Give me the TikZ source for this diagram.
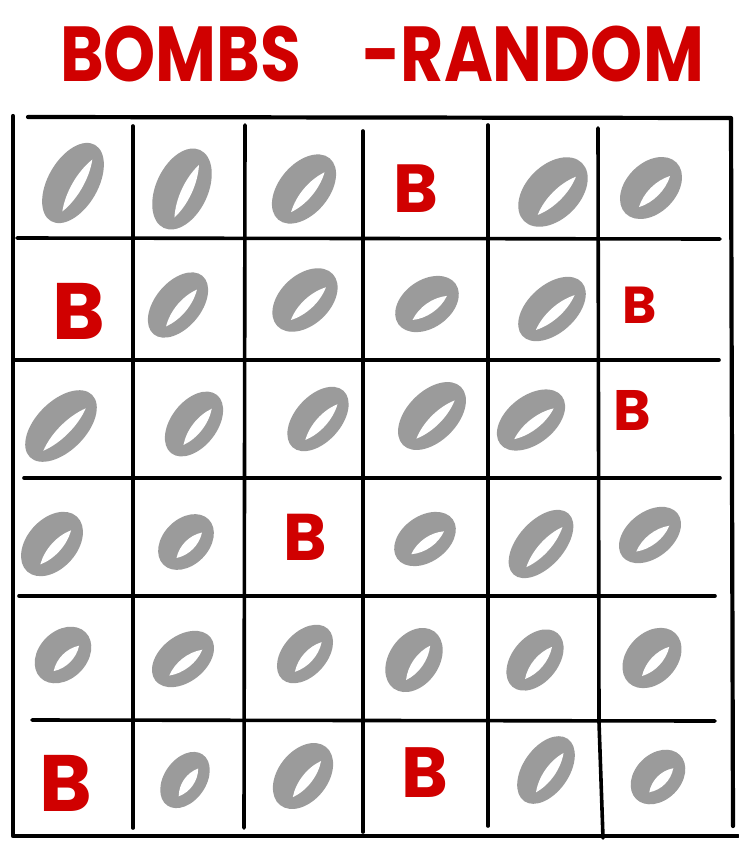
\documentclass[tikz,border=0pt]{standalone}
\usepackage{fontspec}
\usepackage{graphicx}
\newfontfamily\handfont{Poppins}
\definecolor{zgray}{RGB}{155,155,155}
\definecolor{bred}{RGB}{208,0,0}
\newcommand\zerocell[5]{%
  \begin{scope}[shift={(#1,#2)}, rotate=#5]
    \pgfmathsetmacro\AAz{#3-2}
    \pgfmathsetmacro\BBz{#4+3}
    \fill[zgray] (0,0) ellipse [x radius=\AAz, y radius=\BBz];
    \pgfmathsetmacro\LLz{\AAz-14}
    \pgfmathsetmacro\CCz{0.2*\BBz}
    \fill[white] (-\LLz,\CCz) .. controls (-0.4*\LLz,\CCz-7) and (0.4*\LLz,\CCz-7) .. (\LLz,\CCz)
      .. controls (0.4*\LLz,\CCz+7) and (-0.4*\LLz,\CCz+7) .. cycle;
  \end{scope}}
\tikzset{
  gridline/.style={line width=3.6pt, line cap=round, line join=round, black},
  bomb/.style={text=bred, inner sep=0pt, font=\handfont\bfseries},
  title/.style={text=bred, inner sep=0pt, font=\handfont\bfseries\fontsize{78}{78}\selectfont}
}
\begin{document}
\begin{tikzpicture}[x=1pt,y=-1pt]
\useasboundingbox[fill=white] (0,0) rectangle (739,852);
% title
\node[title] (ttl) at (382,54) {\scalebox{0.85}[1]{BOMBS\hspace{72pt}-RANDOM}};
% outer frame
\draw[gridline, line width=4.2pt] (28,117) -- (731,118) -- (733,826);
\draw[gridline, line width=4.2pt] (13,116) -- (13,836) -- (738,836);
% horizontal lines
\draw[gridline] (17,238) -- (720,239);
\draw[gridline] (13,360) -- (719,360);
\draw[gridline] (24,478) -- (720,478);
\draw[gridline] (19,596) -- (715,596);
\draw[gridline] (32,720) -- (715,721);
% vertical lines
\draw[gridline] (133,126) -- (133,828);
\draw[gridline] (245,125) -- (244,828);
\draw[gridline] (363,131) -- (363,832);
\draw[gridline] (488,125) -- (488,826);
\draw[gridline] (598,128) -- (599,722) -- (603,838);
% row 1
\zerocell{73}{183}{46}{22}{60}
\zerocell{182}{189}{45}{23}{65}
\zerocell{304}{189}{42}{22}{50}
\node[bomb] (b14) at (416,189) {\fontsize{68}{68}\selectfont B};
\zerocell{553}{192}{43}{24}{45}
\zerocell{651}{188}{38}{22}{45}
% row 2
\node[bomb] (b21) at (79,311) {\fontsize{80}{80}\selectfont B};
\zerocell{178}{305}{40}{20}{50}
\zerocell{305}{300}{40}{22}{43}
\zerocell{427}{304}{37}{21}{35}
\zerocell{552}{309}{42}{21}{42}
\node[bomb] (b26) at (640,305) {\fontsize{52}{52}\selectfont B};
% row 3
\zerocell{61}{426}{46}{22}{45}
\zerocell{194}{424}{39}{20}{52}
\zerocell{318}{419}{40}{20}{48}
\zerocell{432}{416}{43}{22}{45}
\zerocell{531}{420}{41}{21}{38}
\node[bomb] (b36) at (632,410) {\fontsize{57}{57}\selectfont B};
% row 4
\zerocell{52}{544}{39}{22}{48}
\zerocell{186}{542}{34}{20}{45}
\node[bomb] (b43) at (305,537) {\fontsize{66}{66}\selectfont B};
\zerocell{425}{539}{36}{20}{35}
\zerocell{541}{544}{43}{20}{48}
\zerocell{650}{535}{37}{20}{38}
% row 5
\zerocell{63}{655}{34}{21}{45}
\zerocell{183}{659}{37}{20}{38}
\zerocell{305}{654}{36}{19}{48}
\zerocell{414}{660}{37}{22}{55}
\zerocell{535}{660}{37}{20}{50}
\zerocell{652}{658}{36}{22}{47}
% row 6
\node[bomb] (b61) at (66,783) {\fontsize{80}{80}\selectfont B};
\zerocell{185}{780}{33}{18}{55}
\zerocell{303}{776}{39}{22}{52}
\node[bomb] (b64) at (425,773) {\fontsize{71}{71}\selectfont B};
\zerocell{546}{770}{40}{20}{55}
\zerocell{658}{777}{33}{20}{45}
\end{tikzpicture}
\end{document}
